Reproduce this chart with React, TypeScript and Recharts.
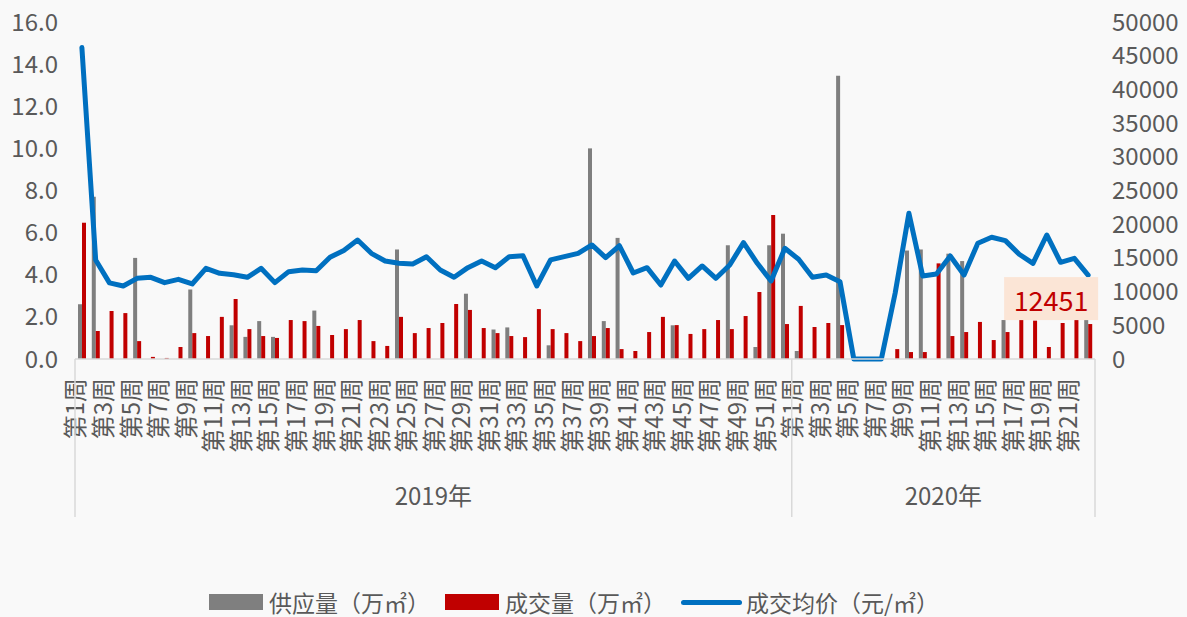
import { ComposedChart, Bar, Line, XAxis, YAxis, Legend, LabelList } from "recharts";

const W = 1187;
const H = 617;
const LEFT_W = 75;
const RIGHT_W = 92;
const TOP = 22;
const XAXIS_H = 218;
const LEGEND_H = 40;
const PLOT_W = W - LEFT_W - RIGHT_W;

const FONT = '"Noto Sans CJK SC", "Noto Sans", sans-serif';
const TEXT = "#595959";
const AXIS = "#D9D9D9";

const YEARS = ["2019年", "2020年"];
const SERIES_NAMES = ["供应量（万㎡）", "成交量（万㎡）", "成交均价（元/㎡）"];

// 供应量（万㎡）
const SUPPLY_2019 = [
  2.6, 7.7, 0, 0, 4.8, 0, 0, 0, 3.3, 0, 0, 1.6, 1.05, 1.8, 1.05, 0, 0, 2.3, 0, 0, 0, 0, 0, 5.2, 0, 0,
  0, 0, 3.1, 0, 1.4, 1.5, 0, 0, 0.65, 0, 0, 10.0, 1.8, 5.75, 0, 0, 0, 1.6, 0, 0, 0, 5.4, 0, 0.57, 5.4, 5.95,
];
const SUPPLY_2020 = [
  0.38, 0, 0, 13.45, 0, 0, 0, 0, 5.15, 5.2, 0, 5.0, 4.65, 0, 0, 1.85, 0, 0, 0, 0, 0, 1.85,
];

// 成交量（万㎡）
const DEAL_2019 = [
  6.47, 1.33, 2.28, 2.18, 0.85, 0.1, 0.05, 0.57, 1.23, 1.09, 2.0, 2.85, 1.42, 1.09, 1.0, 1.85, 1.8, 1.57,
  1.14, 1.42, 1.85, 0.85, 0.62, 2.0, 1.23, 1.47, 1.71, 2.61, 2.33, 1.47, 1.23, 1.09, 1.04, 2.37, 1.42,
  1.23, 0.85, 1.09, 1.47, 0.47, 0.38, 1.28, 2.0, 1.61, 1.19, 1.42, 1.85, 1.42, 2.04, 3.18, 6.84, 1.66,
];
const DEAL_2020 = [
  2.52, 1.52, 1.71, 1.61, 0, 0, 0, 0.47, 0.33, 0.33, 4.54, 1.09, 1.28, 1.76, 0.9, 1.28, 1.85, 1.82, 0.57,
  1.71, 1.85, 1.66,
];

// 成交均价（元/㎡）
const PRICE_2019 = [
  46200, 14700, 11300, 10830, 11970, 12120, 11330, 11820, 11130, 13450, 12710, 12510, 12120, 13450, 11330,
  12960, 13200, 13100, 15090, 16100, 17650, 15680, 14540, 14200, 14100, 15180, 13200, 12120, 13550, 14540,
  13550, 15180, 15330, 10830, 14700, 15180, 15680, 16920, 15040, 16800, 12760, 13550, 10980, 14540, 11970,
  13800, 11970, 13950, 17260, 14200, 11580, 16420,
];
const PRICE_2020 = [
  14790, 12120, 12470, 11470, 0, 0, 0, 9750, 21620, 12320, 12610, 15280, 12470, 17170, 18060, 17560, 15540,
  14200, 18400, 14350, 14940, 12451,
];

const LEFT_TICKS = [0, 2, 4, 6, 8, 10, 12, 14, 16];
const RIGHT_TICKS = [0, 5000, 10000, 15000, 20000, 25000, 30000, 35000, 40000, 45000, 50000];

const SERIES_BY_YEAR = [
  { year: YEARS[0], supply: SUPPLY_2019, deal: DEAL_2019, price: PRICE_2019 },
  { year: YEARS[1], supply: SUPPLY_2020, deal: DEAL_2020, price: PRICE_2020 },
];

const data = SERIES_BY_YEAR.flatMap((s) =>
  s.supply.map((v, i) => ({
    id: `${s.year}-${i + 1}`,
    year: s.year,
    week: i + 1,
    yearSize: s.supply.length,
    supply: v,
    deal: s.deal[i],
    price: s.price[i],
  }))
);

function WeekTick(props: any) {
  const { x, y, index } = props;
  const row = data[index];
  if (!row) return <g />;
  const step = PLOT_W / data.length;
  return (
    <g>
      {row.week % 2 === 1 && (
        <text
          transform={`translate(${x - 8},${y + 19}) rotate(-90)`}
          textAnchor="end"
          dominantBaseline="central"
          fontSize={24}
          fill={TEXT}
        >
          {`第${row.week}周`}
        </text>
      )}
      {row.week === 1 && (
        <>
          <line x1={x - step / 2} x2={x - step / 2} y1={y} y2={y + 158} stroke={AXIS} strokeWidth={1.5} />
          <text
            x={x - step / 2 + (row.yearSize * step) / 2}
            y={y + 135}
            textAnchor="middle"
            dominantBaseline="central"
            fontSize={24}
            fill={TEXT}
          >
            {row.year}
          </text>
        </>
      )}
      {index === data.length - 1 && (
        <line x1={x + step / 2} x2={x + step / 2} y1={y} y2={y + 158} stroke={AXIS} strokeWidth={1.5} />
      )}
    </g>
  );
}

function PriceTag(props: any) {
  const { x, y, index, value } = props;
  if (index !== data.length - 1) return null;
  return (
    <g>
      <rect x={x - 84} y={y + 2} width={94} height={43} fill="#FBE5D6" />
      <text x={x - 37} y={y + 24} textAnchor="middle" dominantBaseline="central" fontSize={27} fill="#C00000">
        {value}
      </text>
    </g>
  );
}

function LegendContent(props: any) {
  const payload = [...(props.payload ?? [])].sort(
    (a: any, b: any) => SERIES_NAMES.indexOf(a.value) - SERIES_NAMES.indexOf(b.value)
  );
  return (
    <div
      style={{
        display: "flex",
        alignItems: "center",
        height: LEGEND_H,
        paddingLeft: 209,
        paddingTop: 10,
        boxSizing: "border-box",
        fontSize: 23,
        lineHeight: "26px",
        color: TEXT,
        fontFamily: FONT,
        whiteSpace: "nowrap",
      }}
    >
      {payload.map((p: any) => (
        <div key={p.value} style={{ display: "flex", alignItems: "center", marginRight: 15 }}>
          {p.type === "line" ? (
            <span style={{ width: 61, height: 5, borderRadius: 3, background: p.color, marginRight: 4 }} />
          ) : (
            <span style={{ width: 54, height: 16, background: p.color, marginRight: 6 }} />
          )}
          <span>{p.value}</span>
        </div>
      ))}
    </div>
  );
}

export default function App() {
  return (
    <div
      style={{
        position: "absolute",
        left: 0,
        top: 0,
        width: W,
        height: H,
        background: "#F9F9F9",
        fontFamily: FONT,
      }}
    >
      <ComposedChart
        width={W}
        height={H}
        data={data}
        margin={{ top: TOP, right: 0, bottom: 0, left: 0 }}
        barGap={0}
      >
        <XAxis
          dataKey="id"
          interval={0}
          height={XAXIS_H}
          tickSize={0}
          tickMargin={0}
          tickLine={false}
          axisLine={{ stroke: AXIS, strokeWidth: 1.5 }}
          tick={<WeekTick />}
        />
        <YAxis
          yAxisId="left"
          width={LEFT_W}
          domain={[0, 16]}
          ticks={LEFT_TICKS}
          tickFormatter={(v: number) => v.toFixed(1)}
          axisLine={false}
          tickLine={false}
          tickSize={0}
          tickMargin={17}
          tick={{ fontSize: 24, fill: TEXT }}
        />
        <YAxis
          yAxisId="right"
          orientation="right"
          width={RIGHT_W}
          domain={[0, 50000]}
          ticks={RIGHT_TICKS}
          axisLine={false}
          tickLine={false}
          tickSize={0}
          tickMargin={17}
          tick={{ fontSize: 24, fill: TEXT }}
        />
        <Legend
          verticalAlign="bottom"
          content={<LegendContent />}
          wrapperStyle={{ left: 0, width: W, height: LEGEND_H }}
        />
        <Bar yAxisId="left" dataKey="supply" name={SERIES_NAMES[0]} fill="#7F7F7F" barSize={4} isAnimationActive={false} />
        <Bar yAxisId="left" dataKey="deal" name={SERIES_NAMES[1]} fill="#C00000" barSize={4} isAnimationActive={false} />
        <Line
          yAxisId="right"
          dataKey="price"
          name={SERIES_NAMES[2]}
          stroke="#0070C0"
          strokeWidth={5}
          strokeLinejoin="round"
          strokeLinecap="round"
          dot={false}
          activeDot={false}
          isAnimationActive={false}
        >
          <LabelList dataKey="price" content={<PriceTag />} />
        </Line>
      </ComposedChart>
    </div>
  );
}
